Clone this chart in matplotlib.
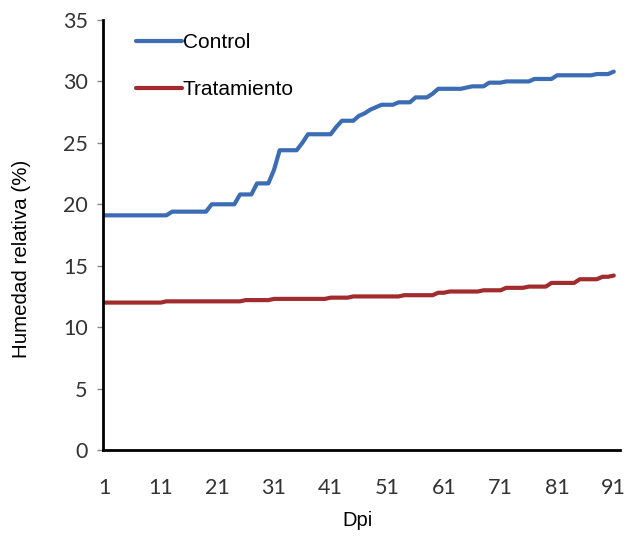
import matplotlib
matplotlib.use("Agg")
import matplotlib.pyplot as plt
import numpy as np

# Data: day -> value, piecewise as runs
control_runs = [  # (first day, last day, value)
    (1, 12, 19.1), (13, 19, 19.4), (20, 24, 20.0), (25, 27, 20.8),
    (28, 30, 21.7), (31, 31, 22.8), (32, 35, 24.4), (36, 36, 25.0),
    (37, 41, 25.7), (42, 42, 26.3), (43, 45, 26.8), (46, 46, 27.2),
    (47, 47, 27.4), (48, 48, 27.7), (49, 49, 27.9), (50, 52, 28.1),
    (53, 55, 28.3), (56, 58, 28.7), (59, 59, 29.0), (60, 64, 29.4),
    (65, 65, 29.5), (66, 68, 29.6), (69, 71, 29.9), (72, 76, 30.0),
    (77, 80, 30.2), (81, 87, 30.5), (88, 90, 30.6), (91, 91, 30.8),
]
treat_runs = [
    (1, 11, 12.0), (12, 25, 12.1), (26, 30, 12.2), (31, 40, 12.3),
    (41, 44, 12.4), (45, 53, 12.5), (54, 59, 12.6), (60, 61, 12.8),
    (62, 67, 12.9), (68, 71, 13.0), (72, 75, 13.2), (76, 79, 13.3),
    (80, 84, 13.6), (85, 88, 13.9), (89, 90, 14.1), (91, 91, 14.2),
]
x_ticks = [1, 11, 21, 31, 41, 51, 61, 71, 81, 91]
y_ticks = [0, 5, 10, 15, 20, 25, 30, 35]
labels = ["Control", "Tratamiento"]


def expand(runs):
    d, v = [], []
    for a, b, val in runs:
        for day in range(a, b + 1):
            d.append(day)
            v.append(val)
    return np.array(d), np.array(v)


days_c, control = expand(control_runs)
days_t, treat = expand(treat_runs)

W, H = 630, 536
fig = plt.figure(figsize=(W / 100, H / 100), dpi=100)
ax = fig.add_axes([103 / W, 1 - 450 / H, (620 - 103) / W, (450 - 20) / H])

ax.plot(days_c, control, color="#3B6CB4", lw=3.0, label=labels[0],
        solid_capstyle="round", solid_joinstyle="round")
ax.plot(days_t, treat, color="#A22B2E", lw=3.0, label=labels[1],
        solid_capstyle="round", solid_joinstyle="round")

ax.set_xlim(0.8, 92.1)
ax.set_ylim(0, 35)
ax.set_xticks(x_ticks)
ax.set_yticks(y_ticks)

for s in ["top", "right"]:
    ax.spines[s].set_visible(False)
for s in ["left", "bottom"]:
    ax.spines[s].set_linewidth(2.0)
    ax.spines[s].set_color("black")

ax.tick_params(axis="y", length=4, width=1, color="#888888", pad=7,
               labelcolor="#333333")
ax.tick_params(axis="x", length=0, pad=20, labelcolor="#333333")
for lab in ax.get_xticklabels() + ax.get_yticklabels():
    lab.set_fontfamily("Lato")
    lab.set_fontsize(15.5)

fig.text(22 / W, 1 - 259 / H, "Humedad relativa (%)", rotation=90,
         ha="center", va="center", fontsize=14.8, family="Liberation Sans")
fig.text(357 / W, 1 - 521 / H, "Dpi", ha="center", va="center",
         fontsize=14.5, family="Liberation Sans")

leg = ax.legend(loc="upper left", bbox_to_anchor=(136 / W, 1 - 33 / H),
                bbox_transform=fig.transFigure, frameon=False,
                prop=dict(family="Liberation Sans", size=15),
                handlelength=2.2, handletextpad=0.05, labelspacing=1.35,
                borderaxespad=0, borderpad=0)

fig.savefig("out.png", dpi=100)
